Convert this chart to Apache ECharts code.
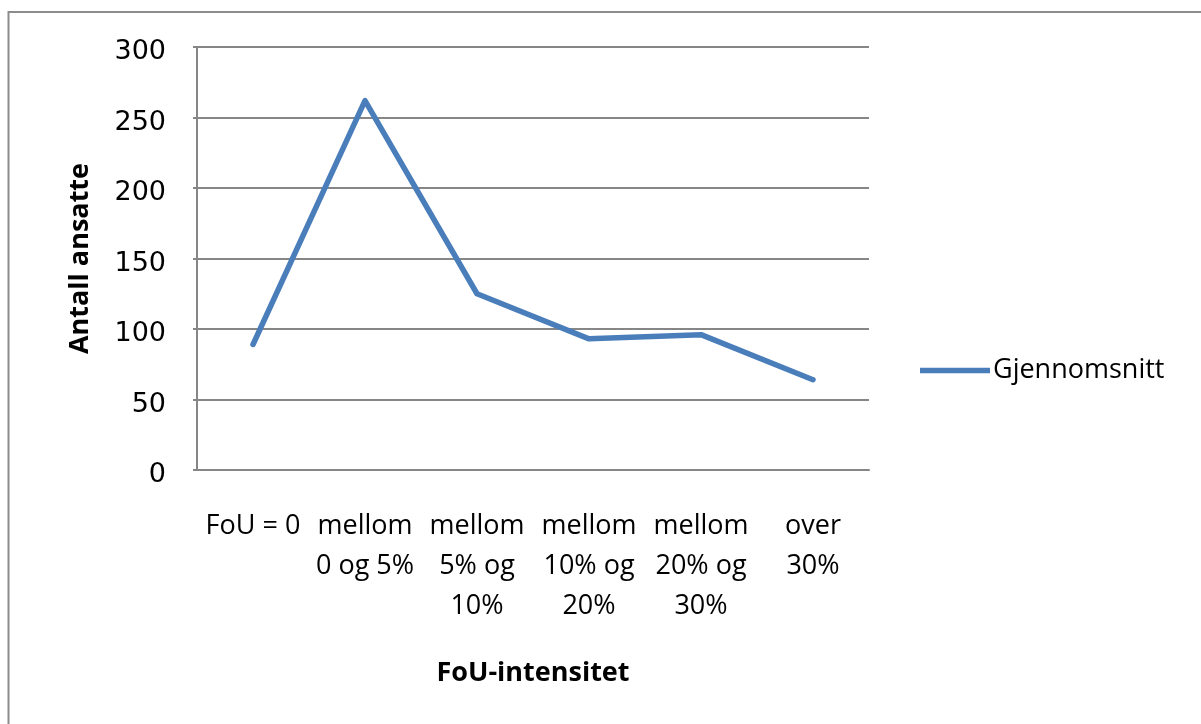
<!DOCTYPE html>
<html>
<head>
<meta charset="utf-8">
<style>
  html, body { margin: 0; padding: 0; background: #fff; }
  #chart { width: 1201px; height: 724px; }
</style>
<script src="https://cdn.jsdelivr.net/npm/echarts@6/dist/echarts.min.js"></script>
</head>
<body>
<div id="chart"></div>
<script>
// Average number of employees by R&D intensity
const categories = [
  'FoU = 0',
  'mellom\n0 og 5%',
  'mellom\n5% og\n10%',
  'mellom\n10% og\n20%',
  'mellom\n20% og\n30%',
  'over\n30%'
];
const gjennomsnitt = [89, 262, 125, 93, 96, 64];
const yTicks = { min: 0, max: 300, interval: 50 };

const textFont = '"Open Sans", "Noto Sans", sans-serif';
const numFont = '"DejaVu Sans", Verdana, sans-serif';
const gridColor = '#868686';
const lineColor = '#4a7ebb';

const chart = echarts.init(document.getElementById('chart'), null, { renderer: 'canvas' });

chart.setOption({
  animation: false,
  backgroundColor: '#ffffff',
  graphic: [{
    type: 'rect',
    shape: { x: 8.5, y: 12, width: 1400, height: 900 },
    style: { fill: 'none', stroke: '#8c8c8c', lineWidth: 2 },
    silent: true,
    z: -1
  }],
  grid: { left: 197, right: 332, top: 47, bottom: 254 },
  legend: {
    left: 915,
    top: 352,
    itemWidth: 70,
    itemHeight: 14,
    itemGap: 10,
    data: [{
      name: 'Gjennomsnitt',
      icon: 'path://M0,0 L70,0 L70,5.5 L0,5.5 Z',
      itemStyle: { color: lineColor }
    }],
    textStyle: { fontFamily: textFont, fontSize: 27, color: '#000', padding: [0, 0, 0, -2] }
  },
  xAxis: {
    type: 'category',
    data: categories,
    boundaryGap: true,
    name: 'FoU-intensitet',
    nameLocation: 'middle',
    nameGap: 190,
    nameTextStyle: { fontFamily: textFont, fontSize: 27, fontWeight: 'bold', color: '#000' },
    axisLine: { lineStyle: { color: gridColor, width: 2 } },
    axisTick: { show: false },
    axisLabel: {
      interval: 0,
      margin: 36,
      fontFamily: textFont,
      fontSize: 27,
      lineHeight: 40,
      color: '#000',
      align: 'center',
      verticalAlign: 'top'
    }
  },
  yAxis: {
    type: 'value',
    min: yTicks.min,
    max: yTicks.max,
    interval: yTicks.interval,
    name: 'Antall ansatte',
    nameLocation: 'middle',
    nameRotate: 90,
    nameGap: 103,
    nameTextStyle: { fontFamily: textFont, fontSize: 27, fontWeight: 'bold', color: '#000' },
    axisLine: { show: true, lineStyle: { color: gridColor, width: 2 } },
    axisTick: { show: true, length: 4, lineStyle: { color: gridColor, width: 2 } },
    splitLine: { show: true, lineStyle: { color: gridColor, width: 2 } },
    axisLabel: {
      margin: 31,
      fontFamily: numFont,
      fontSize: 27,
      color: '#000',
      verticalAlign: 'top',
      lineHeight: 10
    }
  },
  series: [{
    name: 'Gjennomsnitt',
    type: 'line',
    data: gjennomsnitt,
    symbol: 'none',
    lineStyle: { color: lineColor, width: 5.5, cap: 'round', join: 'round' },
    itemStyle: { color: lineColor }
  }]
});
</script>
</body>
</html>
